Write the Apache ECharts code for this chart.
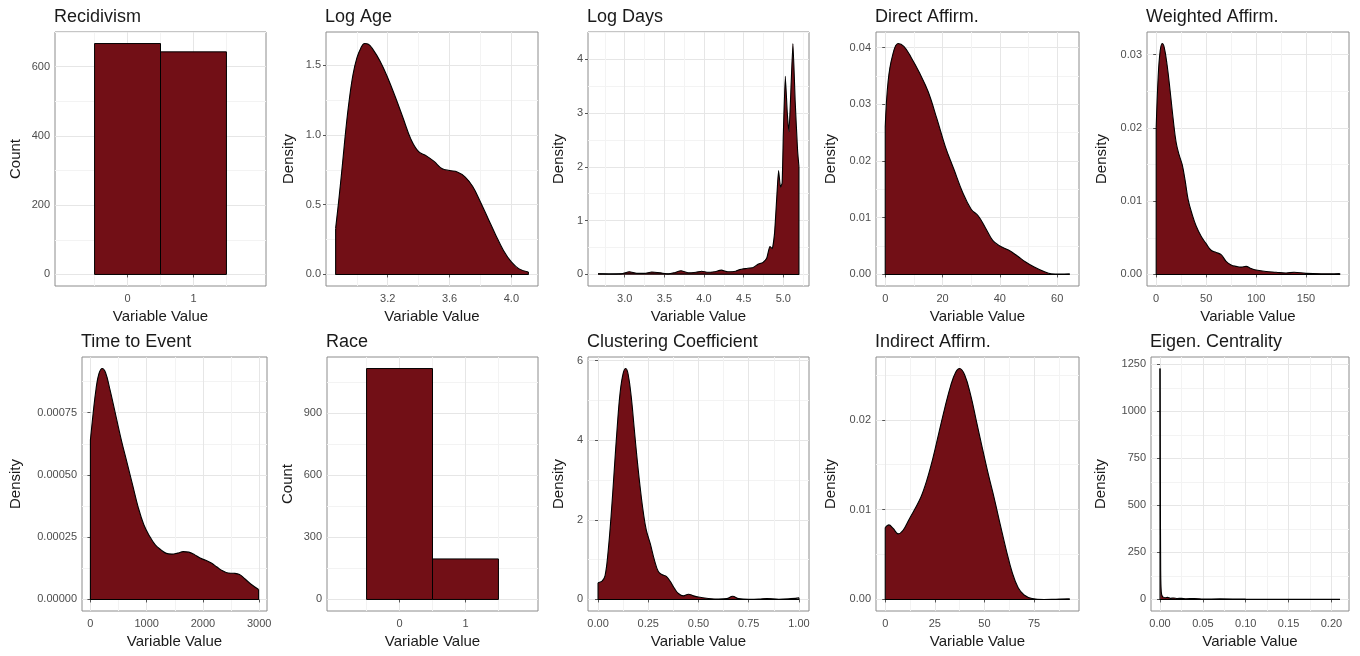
<!DOCTYPE html>
<html>
<head>
<meta charset="utf-8">
<script src="https://cdn.jsdelivr.net/npm/echarts@6/dist/echarts.min.js"></script>
<style>
  html, body { margin: 0; padding: 0; background: #fff; }
  #chart { width: 1360px; height: 656px; }
</style>
</head>
<body>
<div id="chart"></div>
<script>
// panel titles and y axis titles, row by row
var titles = ['Recidivism', 'Log Age', 'Log Days', 'Direct Affirm.', 'Weighted Affirm.',
              'Time to Event', 'Race', 'Clustering Coefficient', 'Indirect Affirm.', 'Eigen. Centrality'];
var yNames = ['Count', 'Density', 'Density', 'Density', 'Density',
              'Density', 'Count', 'Density', 'Density', 'Density'];

// histogram bins (values 0 / 1, binwidth 1)
var binValues = [0, 1];
var recidivismCounts = [667, 643];
var raceCounts = [1117, 196];

// density curves [value, density]
var logAge = [[2.863,0.33],[2.885,0.55],[2.908,0.8],[2.93,1.05],[2.951,1.25],[2.975,1.43],[3.0,1.55],
  [3.025,1.62],[3.05,1.655],[3.075,1.65],[3.1,1.62],[3.15,1.53],[3.2,1.41],[3.25,1.27],[3.3,1.12],
  [3.35,0.97],[3.4,0.88],[3.45,0.85],[3.5,0.81],[3.55,0.76],[3.6,0.745],[3.65,0.735],[3.7,0.7],[3.75,0.63],
  [3.8,0.52],[3.85,0.4],[3.9,0.28],[3.95,0.17],[4.0,0.09],[4.05,0.04],[4.11,0.017]];
var logDays = [[2.664,0.01],[2.8,0.005],[2.95,0.01],[3.06,0.05],[3.15,0.02],[3.25,0.02],[3.34,0.045],
  [3.45,0.03],[3.55,0.01],[3.62,0.03],[3.71,0.07],[3.8,0.03],[3.9,0.04],[3.97,0.06],[4.05,0.04],[4.13,0.05],
  [4.22,0.08],[4.3,0.05],[4.4,0.06],[4.45,0.09],[4.53,0.11],[4.62,0.13],[4.68,0.19],[4.74,0.22],[4.79,0.3],
  [4.83,0.52],[4.86,0.48],[4.89,0.78],[4.92,1.5],[4.94,1.93],[4.965,1.62],[4.985,1.7],[5.0,2.6],[5.025,3.68],
  [5.05,3.0],[5.071,2.65],[5.1,3.6],[5.121,4.29],[5.15,3.2],[5.18,2.3],[5.197,2.0]];
var directAffirm = [[0,0.026],[1,0.034],[2.5,0.0385],[4.5,0.0407],[6.5,0.0402],[9,0.0383],[12,0.0355],
  [15,0.0322],[18,0.0275],[21,0.0225],[24,0.0185],[27,0.0145],[30,0.0115],[32.5,0.0103],[35,0.0082],
  [37.5,0.006],[40,0.005],[43,0.0043],[46,0.0033],[49,0.0022],[52,0.0013],[55,0.0006],[58,0.0001],
  [61,0.00005],[64.4,0.0001]];
var weightedAffirm = [[0,0.02],[2,0.027],[4,0.0305],[6,0.0315],[8,0.031],[11,0.0285],[14,0.025],
  [17,0.0212],[20,0.018],[23,0.0163],[26,0.015],[29,0.0128],[32,0.0102],[36,0.0082],[40,0.0066],
  [45,0.0052],[50,0.0042],[55,0.0033],[60,0.003],[65,0.0027],[70,0.0018],[75,0.0013],[80,0.0011],
  [85,0.001],[90,0.0011],[95,0.0008],[100,0.0006],[110,0.0004],[120,0.0003],[130,0.0002],[138,0.0003],
  [150,0.00015],[165,0.0001],[183.8,0.00014]];
var timeToEvent = [[0,0.00064],[50,0.00075],[100,0.000845],[150,0.000905],[210,0.000927],[270,0.00091],
  [350,0.00084],[450,0.00074],[550,0.00064],[650,0.00055],[750,0.00046],[850,0.00037],[950,0.0003],
  [1050,0.000255],[1150,0.00022],[1250,0.0002],[1350,0.000185],[1450,0.000182],[1550,0.000186],
  [1650,0.000192],[1750,0.00019],[1850,0.00018],[1950,0.000166],[2050,0.000157],[2150,0.000146],
  [2250,0.00013],[2350,0.000115],[2450,0.000106],[2550,0.000105],[2650,0.0001],[2750,0.000082],
  [2850,0.000062],[2990,0.00004]];
var clustering = [[0,0.42],[0.02,0.46],[0.035,0.6],[0.05,1.2],[0.065,2.1],[0.08,3.2],[0.095,4.3],
  [0.11,5.2],[0.125,5.68],[0.138,5.8],[0.15,5.65],[0.165,5.1],[0.18,4.3],[0.195,3.5],[0.21,2.8],[0.225,2.2],
  [0.24,1.75],[0.26,1.4],[0.28,1.0],[0.3,0.7],[0.32,0.62],[0.34,0.58],[0.36,0.45],[0.38,0.28],[0.4,0.15],
  [0.425,0.09],[0.45,0.13],[0.475,0.09],[0.5,0.06],[0.54,0.03],[0.6,0.01],[0.64,0.02],[0.67,0.08],
  [0.7,0.02],[0.75,0.005],[0.8,0.01],[0.84,0.025],[0.9,0.005],[0.96,0.02],[1.0,0.04]];
var indirectAffirm = [[0,0.008],[1.8,0.0083],[4,0.0079],[6.5,0.0073],[9,0.0077],[12,0.0089],[15,0.0101],
  [18,0.0114],[21,0.0133],[24,0.0157],[27,0.0185],[30,0.0213],[33,0.0238],[35.5,0.0253],[37.5,0.0257],
  [40,0.025],[43,0.0228],[46,0.0198],[49,0.0168],[52,0.0139],[55,0.0112],[58,0.0083],[61,0.0055],
  [64,0.003],[67,0.0013],[70,0.0005],[74,0.0001],[80,0],[86,0.00003],[93,0.00007]];
var eigenCentrality = [[0,1228],[0.0004,600],[0.0008,150],[0.0015,40],[0.003,15],[0.006,9],[0.009,11],
  [0.012,6],[0.016,8],[0.02,5],[0.025,6],[0.03,4],[0.04,5],[0.05,2.5],[0.07,3],[0.1,1.5],[0.15,1],[0.21,0.5]];

// tick labels per panel
var xTicks = [['0','1'], ['3.2','3.6','4.0'], ['3.0','3.5','4.0','4.5','5.0'], ['0','20','40','60'],
  ['0','50','100','150'], ['0','1000','2000','3000'], ['0','1'], ['0.00','0.25','0.50','0.75','1.00'],
  ['0','25','50','75'], ['0.00','0.05','0.10','0.15','0.20']];
var yTicks = [['0','200','400','600'], ['0.0','0.5','1.0','1.5'], ['0','1','2','3','4'],
  ['0.00','0.01','0.02','0.03','0.04'], ['0.00','0.01','0.02','0.03'], ['0.00000','0.00025','0.00050','0.00075'],
  ['0','300','600','900'], ['0','2','4','6'], ['0.00','0.01','0.02'], ['0','250','500','750','1000','1250']];

var panels = [
  {bars: recidivismCounts}, {curve: logAge}, {curve: logDays, sharp: true}, {curve: directAffirm},
  {curve: weightedAffirm}, {curve: timeToEvent}, {bars: raceCounts}, {curve: clustering},
  {curve: indirectAffirm}, {curve: eigenCentrality, sharp: true}
];

// layout (panel boxes in px)
var boxes = [
  [55, 32, 211], [326, 32, 212], [588, 32, 221], [876, 32, 203], [1147, 32, 202],
  [82, 357, 185], [327, 357, 211], [588, 357, 221], [876, 357, 203], [1151, 357, 198]
];
var yGaps = [32, 30, 22, 38, 38, 59, 32, 22, 38, 43];
var PANEL_H = 254;
var FILL = '#720f16';
var FONT = 'Liberation Sans, Arial, sans-serif';

function minors(ticks, lo, hi) {
  var v = ticks.map(Number), step = v[1] - v[0], out = [];
  for (var t = v[0] - step / 2; t <= hi + 1e-12; t += step) {
    if (t >= lo) out.push(+t.toFixed(10));
  }
  return out;
}

function padRange(lo, hi) {
  var d = (hi - lo) * 0.05;
  return [lo - d, hi + d];
}

var option = {
  backgroundColor: '#fff',
  animation: false,
  title: [], grid: [], xAxis: [], yAxis: [], series: []
};

panels.forEach(function (p, i) {
  var b = boxes[i];
  var xr, yr;
  if (p.bars) {
    xr = [-1.1, 2.1];
    yr = padRange(0, Math.max.apply(null, p.bars));
  } else {
    var xs = p.curve.map(function (d) { return d[0]; });
    var ys = p.curve.map(function (d) { return d[1]; });
    xr = padRange(Math.min.apply(null, xs), Math.max.apply(null, xs));
    yr = padRange(0, Math.max.apply(null, ys));
  }

  option.title.push({
    text: titles[i], left: b[0] - 1, top: b[1] - 24, padding: 0,
    textStyle: {fontFamily: FONT, fontSize: 18, fontWeight: 'normal', color: '#1a1a1a'}
  });
  option.grid.push({
    left: b[0], top: b[1], width: b[2], height: PANEL_H,
    show: true, borderColor: '#8c8c8c', borderWidth: 1, backgroundColor: '#fff'
  });

  var xt = xTicks[i].map(Number), yt = yTicks[i].map(Number);

  option.xAxis.push({
    type: 'value', gridIndex: i, min: xr[0], max: xr[1],
    name: 'Variable Value', nameLocation: 'middle', nameGap: 23,
    nameTextStyle: {fontFamily: FONT, fontSize: 15, color: '#1a1a1a'},
    axisLine: {show: false},
    axisTick: {show: true, length: 3, customValues: xt, lineStyle: {color: '#555'}},
    axisLabel: {customValues: xt, margin: 7, fontFamily: FONT, fontSize: 11, color: '#4d4d4d',
      formatter: function (v) { return xTicks[i][xt.indexOf(v)]; }},
    splitLine: {show: true, lineStyle: {color: '#e6e6e6', width: 1}}
  });
  option.xAxis.push({
    type: 'value', gridIndex: i, min: xr[0], max: xr[1], position: 'top',
    axisLine: {show: false}, axisLabel: {show: false},
    axisTick: {show: false, customValues: minors(xTicks[i], xr[0], xr[1])},
    splitLine: {show: true, lineStyle: {color: '#f3f3f3', width: 1}}
  });
  option.yAxis.push({
    type: 'value', gridIndex: i, min: yr[0], max: yr[1],
    name: yNames[i], nameLocation: 'middle', nameGap: yGaps[i],
    nameTextStyle: {fontFamily: FONT, fontSize: 15, color: '#1a1a1a'},
    axisLine: {show: false},
    axisTick: {show: true, length: 3, customValues: yt, lineStyle: {color: '#555'}},
    axisLabel: {customValues: yt, margin: 5, fontFamily: FONT, fontSize: 11, color: '#4d4d4d',
      formatter: function (v) { return yTicks[i][yt.indexOf(v)]; }},
    splitLine: {show: true, lineStyle: {color: '#e6e6e6', width: 1}}
  });
  option.yAxis.push({
    type: 'value', gridIndex: i, min: yr[0], max: yr[1], position: 'right',
    axisLine: {show: false}, axisLabel: {show: false},
    axisTick: {show: false, customValues: minors(yTicks[i], yr[0], yr[1])},
    splitLine: {show: true, lineStyle: {color: '#f3f3f3', width: 1}}
  });

  if (p.bars) {
    option.series.push({
      type: 'custom', xAxisIndex: 2 * i, yAxisIndex: 2 * i,
      data: p.bars.map(function (c, k) { return [binValues[k] - 0.5, binValues[k] + 0.5, c]; }),
      encode: {x: [0, 1], y: 2},
      renderItem: function (params, api) {
        var p0 = api.coord([api.value(0), 0]);
        var p1 = api.coord([api.value(1), api.value(2)]);
        return {
          type: 'rect',
          shape: {x: p0[0], y: p1[1], width: p1[0] - p0[0], height: p0[1] - p1[1]},
          style: {fill: FILL, stroke: '#000', lineWidth: 1}
        };
      }
    });
  } else {
    var c = p.curve;
    var a = c[0], z = c[c.length - 1];
    // filled density curve
    option.series.push({
      type: 'line', xAxisIndex: 2 * i, yAxisIndex: 2 * i,
      data: c, showSymbol: false, smooth: p.sharp ? 0.15 : 0.4,
      lineStyle: {color: '#000', width: 1.1},
      areaStyle: {color: FILL, opacity: 1}, z: 3
    });
    // closing outline: left edge, baseline, right edge
    option.series.push({
      type: 'line', xAxisIndex: 2 * i, yAxisIndex: 2 * i,
      data: [[a[0], a[1]], [a[0], 0], [z[0], 0], [z[0], z[1]]], showSymbol: false,
      lineStyle: {color: '#000', width: 1.1}, z: 4
    });
  }
});

var chart = echarts.init(document.getElementById('chart'));
chart.setOption(option);
</script>
</body>
</html>
